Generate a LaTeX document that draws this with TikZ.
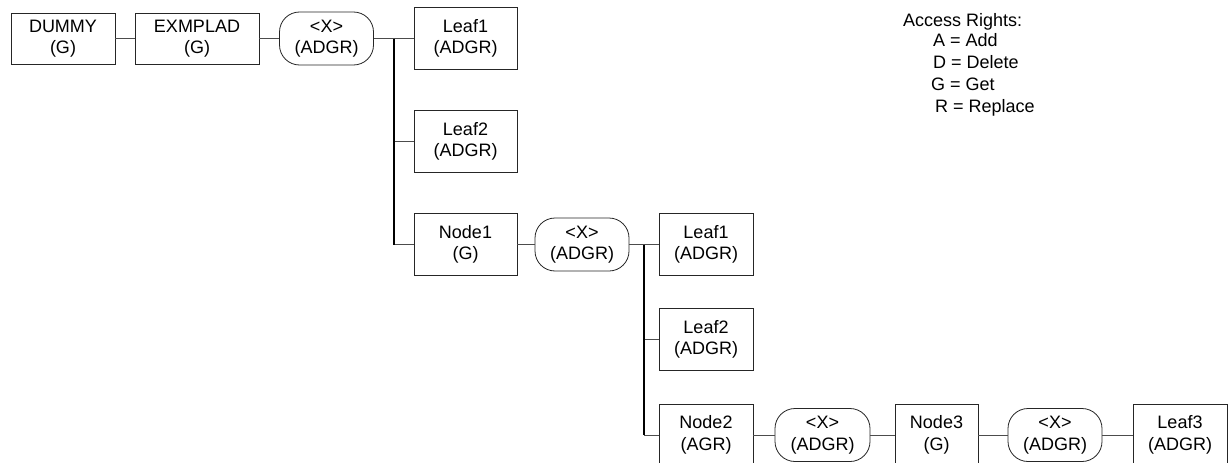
\documentclass[tikz,border=0pt]{standalone}
\usepackage{fontspec}
\setmainfont{Liberation Sans}
\begin{document}
\begin{tikzpicture}[x=1pt,y=-1pt,
  every node/.style={font=\fontsize{18}{21.5}\selectfont, inner sep=0pt},
  box/.style={draw=black!85, line width=0.8pt, align=center, fill=white},
  oval/.style={draw=black!85, line width=0.8pt, align=center, rounded corners=20pt, fill=white},
  conn/.style={draw=black!70, line width=0.8pt},
  bus/.style={draw=black, line width=1.3pt},
  legend/.style={anchor=base west}
]
\useasboundingbox (0,0) rectangle (1229,463);
% row 1
\node[box, minimum width=104pt, minimum height=51pt] (dummy) at (63,38.5) {DUMMY\\(G)};
\node[box, minimum width=124pt, minimum height=51pt] (exmplad) at (197,38.5) {EXMPLAD\\(G)};
\node[oval, minimum width=94pt, minimum height=53pt] (x1) at (326.5,38.5) {<X>\\(ADGR)};
\node[box, minimum width=103pt, minimum height=62pt] (leafA) at (465.5,38.5) {Leaf1\\(ADGR)};
\node[box, minimum width=103pt, minimum height=62pt] (leafB) at (465.5,141.5) {Leaf2\\(ADGR)};
\node[box, minimum width=103pt, minimum height=62pt] (node1) at (465.5,244.5) {Node1\\(G)};
\node[oval, minimum width=94pt, minimum height=53pt] (x2) at (582,244.5) {<X>\\(ADGR)};
\node[box, minimum width=94pt, minimum height=62pt] (leafC) at (706,244.5) {Leaf1\\(ADGR)};
\node[box, minimum width=94pt, minimum height=62pt] (leafD) at (706,339.5) {Leaf2\\(ADGR)};
\node[box, minimum width=94pt, minimum height=62pt] (node2) at (706,435) {Node2\\(AGR)};
\node[oval, minimum width=95pt, minimum height=53pt] (x3) at (822.5,435) {<X>\\(ADGR)};
\node[box, minimum width=83pt, minimum height=62pt] (node3) at (936.5,435) {Node3\\(G)};
\node[oval, minimum width=94pt, minimum height=53pt] (x4) at (1055,435) {<X>\\(ADGR)};
\node[box, minimum width=94pt, minimum height=62pt] (leaf3) at (1180,435) {Leaf3\\(ADGR)};
% bus coordinates
\coordinate (b1) at (394,38.5);
\coordinate (b2) at (644,244.5);
% connectors
\draw[conn] (dummy.east) -- (exmplad.west);
\draw[conn] (exmplad.east) -- (x1.west);
\draw[conn] (x1.east) -- (leafA.west);
\draw[conn] (leafB.west) -- (leafB.west -| b1);
\draw[conn] (node1.west) -- (node1.west -| b1);
\draw[bus] (b1) -- (node1.west -| b1);
\draw[conn] (node1.east) -- (x2.west);
\draw[conn] (x2.east) -- (leafC.west);
\draw[conn] (leafD.west) -- (leafD.west -| b2);
\draw[conn] (node2.west) -- (node2.west -| b2);
\draw[bus] (b2) -- (node2.west -| b2);
\draw[conn] (node2.east) -- (x3.west);
\draw[conn] (x3.east) -- (node3.west);
\draw[conn] (node3.east) -- (x4.west);
\draw[conn] (x4.east) -- (leaf3.west);
% legend
\node[legend] (lg0) at (903,26.7) {Access Rights:};
\node[legend] (lg1) at (933,46.7) {A = Add};
\node[legend] (lg2) at (933,68.5) {D = Delete};
\node[legend] (lg3) at (931,90.5) {G = Get};
\node[legend] (lg4) at (935,112.5) {R = Replace};
\end{tikzpicture}
\end{document}
